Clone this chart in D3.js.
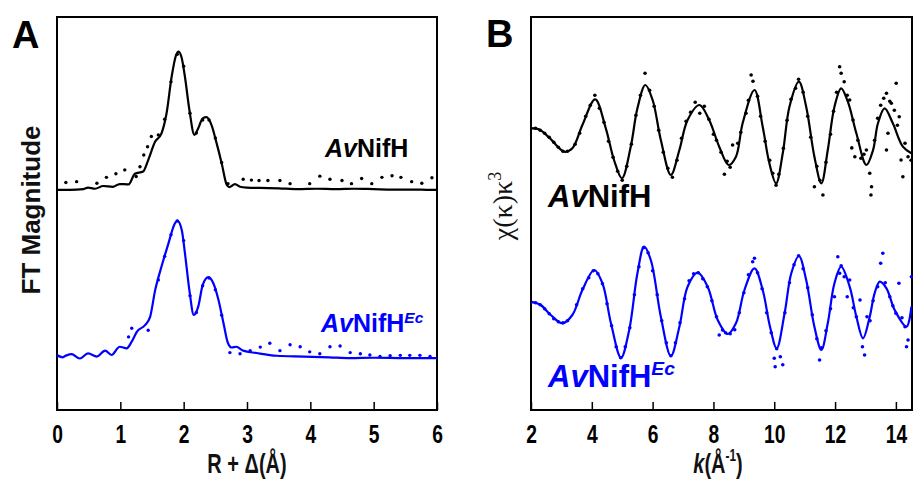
<!DOCTYPE html>
<html><head><meta charset="utf-8">
<script src="https://cdn.jsdelivr.net/npm/d3@7"></script>
<style>
body{margin:0;background:#fff;}
svg{display:block;}
</style></head>
<body>
<svg id="chart" width="914" height="480"></svg>
<script>
// ---------- DATA ----------
// Panel A: FT magnitude vs R + Δ (Å)
const ftTopLineR = [0,0.2,0.42,0.49,0.6,0.73,0.88,0.99,1.13,1.23,1.36,1.44,1.55,1.65,1.73,1.81,1.88,1.92,1.97,2.02,2.09,2.17,2.23,2.30,2.36,2.44,2.52,2.60,2.68,2.72,2.81,2.89,3.0,3.2,3.5,3.8,4.1,4.4,4.7,5.0,5.3,5.6,5.9,6.0];
const ftTopLineV = [0,0.0,0.02,0.06,0.03,0.10,0.08,0.15,0.14,0.41,0.47,0.76,1.23,1.44,1.95,2.88,3.43,3.52,3.35,2.88,2.04,1.40,1.57,1.82,1.85,1.65,1.19,0.68,0.13,0.07,0.15,0.08,0.06,0.05,0.04,0.02,0.03,0.02,0.03,0.02,0.01,0.01,0.0,0.0];
const ftTopDotR = [0.14,0.31,0.63,0.78,0.93,1.07,1.25,1.31,1.37,1.43,1.49,1.6,1.7,1.8,1.9,2.0,2.1,2.2,2.3,2.4,2.5,2.6,2.7,2.94,3.07,3.19,3.33,3.52,3.68,3.99,4.15,4.31,4.5,4.65,4.81,4.97,5.13,5.29,5.43,5.6,5.76,5.92];
const ftTopDotV = [0.19,0.21,0.17,0.32,0.41,0.51,0.34,0.59,0.89,1.10,1.36,1.40,1.80,2.75,3.45,3.15,1.95,1.45,1.78,1.78,1.32,0.70,0.16,0.27,0.25,0.24,0.24,0.24,0.16,0.16,0.35,0.27,0.24,0.16,0.29,0.16,0.32,0.36,0.32,0.21,0.17,0.31];
const ftBotLineR = [0,0.08,0.15,0.23,0.36,0.49,0.63,0.76,0.86,0.99,1.10,1.18,1.26,1.39,1.47,1.55,1.65,1.76,1.85,1.90,1.97,2.02,2.09,2.16,2.23,2.30,2.39,2.47,2.55,2.63,2.70,2.76,2.83,2.94,3.15,3.47,3.9,4.3,4.63,5.0,5.5,6.0];
const ftBotLineV = [0.04,-0.02,0.03,0.06,-0.05,0.08,0.0,0.15,0.04,0.25,0.21,0.38,0.63,0.80,1.01,1.69,2.29,2.88,3.35,3.46,3.22,2.63,1.69,1.06,1.27,1.82,2.02,1.86,1.44,0.84,0.34,0.23,0.25,0.15,0.09,0.02,0.0,-0.02,-0.04,-0.03,-0.04,-0.04];
const ftBotDotR = [1.13,1.18,1.44,1.6,1.7,1.8,1.9,2.0,2.1,2.2,2.3,2.4,2.5,2.6,2.73,2.89,3.05,3.21,3.36,3.52,3.68,3.84,3.99,4.15,4.31,4.47,4.63,4.79,4.94,5.1,5.26,5.42,5.57,5.73,5.89];
const ftBotDotV = [0.50,0.72,0.67,1.95,2.55,3.1,3.45,2.95,1.55,1.12,1.80,2.0,1.70,1.05,0.10,0.07,0.15,0.24,0.34,0.15,0.30,0.25,0.12,0.07,0.25,0.27,0.10,0.07,0.04,0.0,0.02,0.03,0.03,0.03,0.0];
const ftOffsets = [5.6, 1.36];          // vertical offsets of the two spectra
const ftTicks = [0,1,2,3,4,5,6];

// Panel B: chi(k)k^3 vs k (Å^-1)
const exTopLineK = [2.02,2.26,2.59,3.09,3.36,3.69,4.11,4.46,4.73,4.99,5.28,5.5,5.76,6.0,6.27,6.6,6.88,7.15,7.54,7.86,8.19,8.5,8.74,8.96,9.35,9.62,9.84,10.06,10.28,10.5,10.81,11.05,11.32,11.55,11.76,11.98,12.2,12.42,12.7,13.03,13.25,13.41,13.63,13.9,14.23,14.51];
const exTopLineV = [0,-0.1,-0.9,-2.34,-2.0,0.33,2.9,0,-3.17,-5.0,-1.84,2.0,4.33,2.83,-1.17,-4.67,-2.17,0.83,2.33,0.83,-1.84,-3.67,-2.84,0.5,3.83,0.16,-3.5,-5.5,-2.5,2.16,4.66,2.16,-2.84,-5.5,-2.17,2.16,4.0,2.66,-0.5,-3.67,-2.17,0.5,2.0,0.5,-1.84,-2.5];
const exTopDotK = [2.15,2.3,2.45,2.6,2.75,2.9,3.05,3.2,3.45,3.6,3.8,3.95,4.1,4.25,4.4,4.55,4.7,4.85,5.0,5.15,5.3,5.45,5.6,5.75,5.9,6.05,6.2,6.35,6.5,6.65,6.8,6.95,7.1,7.25,7.4,7.55,7.7,7.85,8.0,8.1,8.25,8.36,8.45,8.55,8.63,8.8,8.9,9.07,9.15,9.24,9.3,9.45,9.55,9.7,9.85,9.95,10.06,10.15,10.3,10.42,10.55,10.7,10.8,10.95,11.1,11.2,11.32,11.4,11.5,11.6,11.7,11.85,11.95,12.05,12.15,12.2,12.3,12.4,12.48,12.59,12.55,12.65,12.75,12.85,12.95,13.03,13.14,13.2,13.18,13.3,13.4,13.5,13.6,13.69,13.69,13.74,13.8,13.85,13.95,14.01,14.05,14.11,14.17,14.23,14.3,14.4,14.5];
const exTopDotV = [0.0,-0.2,-0.5,-0.9,-1.4,-1.9,-2.3,-2.3,-1.6,-0.5,1.2,2.3,3.3,2.0,0.6,-1.3,-2.9,-4.3,-5.2,-3.8,-1.6,1.3,3.3,5.5,3.8,2.2,-0.2,-2.4,-4.0,-4.9,-3.2,-1.0,0.7,1.6,2.6,1.5,2.2,0.9,-0.6,-1.2,-2.4,-4.6,-3.3,-3.9,-1.67,-1.5,-0.4,1.5,2.8,5.33,4.7,3.2,1.2,-1.3,-3.2,-4.5,-5.7,-4.6,-2.0,0.8,2.9,4.0,4.9,3.6,1.2,-0.9,-5.84,-3.8,-5.2,-6.67,-3.4,-0.6,1.7,3.6,6.16,5.5,4.66,3.3,2.83,0.83,-1.96,-2.84,-1.2,-3.0,-2.6,-2.17,-4.5,-5.84,-6.67,-1.2,1.0,2.3,3.0,3.5,-2.17,-0.5,2.7,2.5,1.8,4.5,0.3,1.16,-3.17,-4.84,-1.5,-2.84,-3.2];
const exBotLineK = [2.02,2.32,2.65,3.03,3.36,3.69,4.08,4.35,4.63,4.96,5.23,5.5,5.72,5.94,6.27,6.6,6.88,7.15,7.48,7.81,8.14,8.47,8.74,9.02,9.35,9.62,9.86,10.08,10.34,10.56,10.81,11.05,11.32,11.55,11.76,11.98,12.2,12.48,12.7,12.92,13.14,13.3,13.47,13.69,13.96,14.35,14.51];
const exBotLineV = [0.1,-0.23,-1.23,-2.06,-1.23,1.27,3.27,1.94,-2.06,-5.5,-2.73,2.94,5.6,4.27,-1.4,-5.33,-2.4,1.6,3.0,1.6,-1.73,-3.13,-2.06,1.27,3.44,1.27,-2.4,-4.56,-1.06,2.94,4.67,2.27,-2.4,-4.73,-2.06,1.94,3.6,1.6,-1.4,-3.56,-1.4,0.94,2.1,1.44,-0.73,-2.4,-0.4];
const exBotDotK = [2.15,2.3,2.45,2.6,2.75,2.9,3.05,3.2,3.5,3.7,3.9,4.05,4.2,4.35,4.5,4.65,4.8,4.95,5.1,5.25,5.4,5.55,5.7,5.85,6.0,6.15,6.3,6.45,6.6,6.75,6.9,7.05,7.2,7.35,7.5,7.65,7.8,7.95,8.1,8.19,8.3,8.4,8.55,8.7,8.85,9.0,9.15,9.29,9.35,9.45,9.6,9.75,9.9,10.0,10.03,10.08,10.2,10.28,10.35,10.5,10.65,10.8,10.95,11.1,11.25,11.4,11.49,11.55,11.7,11.85,11.98,12.09,12.15,12.2,12.3,12.4,12.48,12.6,12.7,12.82,12.9,12.97,13.05,13.15,13.25,13.4,13.5,13.57,13.65,13.8,13.9,14.0,14.1,14.2,14.3,14.35,14.4,14.51];
const exBotDotV = [0.0,-0.2,-0.6,-1.1,-1.6,-1.9,-2.0,-1.8,-0.2,1.4,2.5,3.2,2.9,1.9,-0.1,-2.3,-4.4,-5.5,-4.4,-2.5,0.8,3.6,5.5,5.0,3.2,0.8,-1.8,-4.0,-5.3,-4.0,-2.0,0.4,2.2,2.9,3.0,2.4,1.6,0.2,-1.4,-3.23,-2.73,-3.0,-3.1,-2.7,-1.0,1.0,2.8,4.1,4.44,3.0,1.4,-1.0,-3.0,-5.56,-6.4,-4.6,-5.4,-6.2,-1.0,2.0,3.8,4.7,3.4,1.5,-1.2,-3.6,-5.73,-4.5,-2.8,-0.6,0.6,4.6,2.94,3.7,2.6,0.6,2.27,-0.5,-1.4,0.27,-4.4,-5.23,-1.4,-1.8,0.2,1.6,3.94,4.94,2.0,0.6,-0.3,-1.06,1.94,-1.5,-2.4,-4.4,-3.73,2.6];
const exOffsets = [28.17, 10.73];
const exTicks = [2,4,6,8,10,12,14];

const seriesColors = ["#000000", "#0000ff"];

// ---------- LAYOUT ----------
const svg = d3.select("#chart");
const plotTop = 17, plotBottom = 410;
const A = {x0: 57, x1: 437};
const B = {x0: 531, x1: 912};
const labFont = "'Liberation Sans',Arial,Helvetica,sans-serif";
const narrow = 0.74;   // horizontal compression emulating a condensed bold face

const xA = d3.scaleLinear().domain([0, 6]).range([A.x0, A.x1]);
const yA = d3.scaleLinear().domain([0, 10]).range([plotBottom, plotTop]);
const xB = d3.scaleLinear().domain([2, 14.53]).range([B.x0, B.x1]);
const yB = d3.scaleLinear().domain([0, 39.3]).range([plotBottom, plotTop]);

function zip(a, b, off){ return a.map((v,i)=>({x:v, y:b[i]+off})); }

function frame(P, xs, ticks){
  const g = svg.append("g");
  const ax = g.append("g").attr("transform", `translate(0,${plotBottom})`)
    .call(d3.axisBottom(xs).tickValues(ticks).tickSize(-8).tickPadding(0).tickFormat(d3.format("d")));
  ax.select(".domain").remove();
  ax.selectAll(".tick line").attr("stroke","#000").attr("stroke-width",1.5);
  ax.selectAll(".tick text").attr("y", 33).attr("dy", null).attr("transform",`scale(${narrow},1)`)
    .attr("font-family", labFont).attr("font-weight","bold").attr("font-size", 26).attr("fill","#000");
  g.append("rect").attr("x", P.x0).attr("y", plotTop).attr("width", P.x1-P.x0).attr("height", plotBottom-plotTop)
    .attr("fill","none").attr("stroke","#000").attr("stroke-width",2);
}
frame(A, xA, ftTicks);
frame(B, xB, exTicks);

// y ticks at spectrum baselines
ftOffsets.forEach((o,i)=>{
  svg.append("line").attr("x1",A.x0).attr("x2",A.x0+5).attr("y1",yA(o)).attr("y2",yA(o))
    .attr("stroke",seriesColors[i]).attr("stroke-width",1.5);
});
exOffsets.forEach((o,i)=>{
  svg.append("line").attr("x1",B.x0).attr("x2",B.x0+5).attr("y1",yB(o)).attr("y2",yB(o))
    .attr("stroke",seriesColors[i]).attr("stroke-width",1.5);
});

// clip paths
const defs = svg.append("defs");
defs.append("clipPath").attr("id","clipA").append("rect").attr("x",A.x0).attr("y",plotTop).attr("width",A.x1-A.x0).attr("height",plotBottom-plotTop);
defs.append("clipPath").attr("id","clipB").append("rect").attr("x",B.x0).attr("y",plotTop).attr("width",B.x1-B.x0+2).attr("height",plotBottom-plotTop);

// Panel A curves
const gA = svg.append("g").attr("clip-path","url(#clipA)");
const lineA = d3.line().x(d=>xA(d.x)).y(d=>yA(d.y)).curve(d3.curveMonotoneX);
[[ftTopLineR,ftTopLineV,ftTopDotR,ftTopDotV],[ftBotLineR,ftBotLineV,ftBotDotR,ftBotDotV]].forEach((s,i)=>{
  gA.append("path").datum(zip(s[0],s[1],ftOffsets[i])).attr("d",lineA)
    .attr("fill","none").attr("stroke",seriesColors[i]).attr("stroke-width",2.2).attr("stroke-linejoin","round");
  gA.selectAll(null).data(zip(s[2],s[3],ftOffsets[i])).enter().append("circle")
    .attr("cx",d=>xA(d.x)).attr("cy",d=>yA(d.y)).attr("r",1.7).attr("fill",seriesColors[i]);
});

// Panel B curves
const gB = svg.append("g").attr("clip-path","url(#clipB)");
const lineB = d3.line().x(d=>xB(d.x)).y(d=>yB(d.y)).curve(d3.curveCatmullRom.alpha(0.5));
[[exTopLineK,exTopLineV,exTopDotK,exTopDotV],[exBotLineK,exBotLineV,exBotDotK,exBotDotV]].forEach((s,i)=>{
  gB.append("path").datum(zip(s[0],s[1],exOffsets[i])).attr("d",lineB)
    .attr("fill","none").attr("stroke",seriesColors[i]).attr("stroke-width",2.2).attr("stroke-linejoin","round");
  gB.selectAll(null).data(zip(s[2],s[3],exOffsets[i])).enter().append("circle")
    .attr("cx",d=>xB(d.x)).attr("cy",d=>yB(d.y)).attr("r",1.8).attr("fill",seriesColors[i]);
});

// ---------- TEXT ----------
function sample(x, y, size, color, sup){
  const t = svg.append("text").attr("x",x).attr("y",y).attr("font-family",labFont)
    .attr("font-weight","bold").attr("font-size",size).attr("fill",color);
  t.append("tspan").attr("font-style","italic").text("Av");
  t.append("tspan").text("NifH");
  if (sup) t.append("tspan").attr("font-style","italic").attr("font-size",size*0.62).attr("dy",-size*0.38).text(sup);
}
sample(325, 157, 25, "#000", null);
sample(321, 332, 25, "#0000ff", "Ec");
sample(548, 207, 31, "#000", null);
sample(548, 387, 31, "#0000ff", "Ec");

// panel letters
svg.append("text").attr("x",12).attr("y",48).attr("font-family",labFont).attr("font-weight","bold").attr("font-size",38).text("A");
svg.append("text").attr("x",486).attr("y",47).attr("font-family",labFont).attr("font-weight","bold").attr("font-size",38).text("B");

// y axis titles
svg.append("text").attr("transform","translate(40,210) rotate(-90)").attr("text-anchor","middle")
  .attr("font-family",labFont).attr("font-weight","bold").attr("font-size",26).attr("fill","#111").text("FT Magnitude");
const yt = svg.append("text").attr("transform","translate(512,206) rotate(-90)").attr("text-anchor","middle")
  .attr("font-family","'Liberation Serif','Times New Roman',serif").attr("font-size",28).attr("fill","#111");
yt.append("tspan").text("χ(κ)κ");
yt.append("tspan").attr("font-size",18).attr("dy",-11).text("3");

// x axis titles (condensed)
const gtA = svg.append("g").attr("transform",`translate(${xA(3)},473) scale(${narrow},1)`);
gtA.append("text").attr("text-anchor","middle").attr("font-family",labFont).attr("font-weight","bold")
  .attr("font-size",27).attr("fill","#111").text("R + Δ(Å)");
const gtB = svg.append("g").attr("transform",`translate(${xB(8.15)},473) scale(${narrow},1)`);
const xtB = gtB.append("text").attr("text-anchor","middle").attr("font-family",labFont).attr("font-weight","bold")
  .attr("font-size",27).attr("fill","#111");
xtB.append("tspan").attr("font-style","italic").text("k");
xtB.append("tspan").text("(Å");
xtB.append("tspan").attr("font-size",16).attr("dy",-12).text("-1");
xtB.append("tspan").attr("dy",12).text(")");
</script>
</body></html>
